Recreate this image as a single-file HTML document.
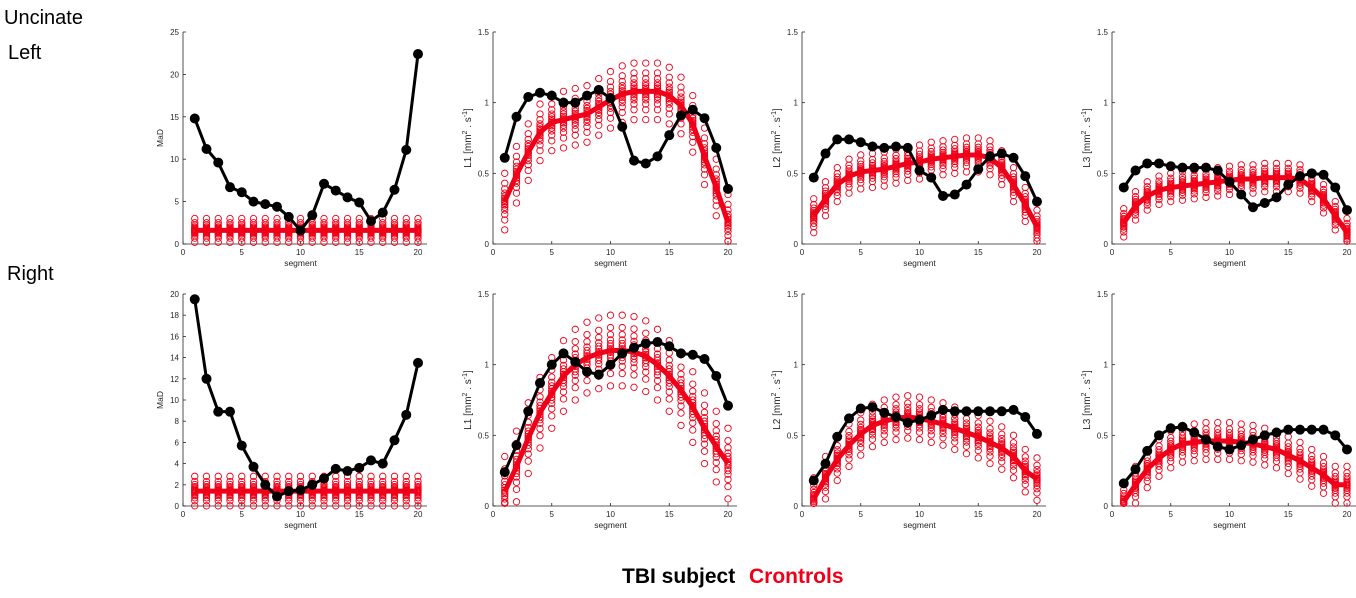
<!DOCTYPE html>
<html><head><meta charset="utf-8"><style>
body{margin:0;background:#fff;width:1356px;height:598px;overflow:hidden;font-family:"Liberation Sans",sans-serif}
svg{position:absolute;left:0;top:0}
</style></head><body>
<svg id="fig" width="1356" height="598">
<text x="4" y="24" font-size="20">Uncinate</text>
<text x="8" y="59" font-size="20">Left</text>
<text x="7" y="280" font-size="20">Right</text>
<text x="622" y="583" font-size="21" font-weight="bold" fill="#000">TBI subject</text>
<text x="749" y="583" font-size="21" font-weight="bold" fill="#f00018">Crontrols</text>
</svg>
<script>
const segments=[1,2,3,4,5,6,7,8,9,10,11,12,13,14,15,16,17,18,19,20];
const tbiLeftMaD=[14.8,11.2,9.6,6.7,6.1,5.0,4.7,4.4,3.2,1.6,3.4,7.1,6.3,5.5,4.9,2.7,3.7,6.4,11.1,22.4];
const ctlLeftMaD=[1.6,1.6,1.6,1.6,1.6,1.6,1.6,1.6,1.6,1.6,1.6,1.6,1.6,1.6,1.6,1.6,1.6,1.6,1.6,1.6];
const tbiLeftL1=[0.61,0.9,1.04,1.07,1.05,1.0,1.0,1.05,1.09,1.03,0.83,0.59,0.57,0.62,0.77,0.91,0.95,0.89,0.68,0.39];
const ctlLeftL1=[0.30,0.49,0.65,0.79,0.86,0.88,0.90,0.92,0.97,1.02,1.06,1.08,1.08,1.08,1.05,0.98,0.85,0.62,0.40,0.15];
const tbiLeftL2=[0.47,0.64,0.74,0.74,0.72,0.69,0.68,0.69,0.68,0.52,0.47,0.34,0.35,0.42,0.53,0.62,0.64,0.61,0.48,0.30];
const ctlLeftL2=[0.20,0.32,0.42,0.48,0.51,0.52,0.53,0.55,0.57,0.58,0.60,0.61,0.62,0.63,0.63,0.61,0.54,0.42,0.28,0.12];
const tbiLeftL3=[0.40,0.52,0.57,0.57,0.55,0.54,0.54,0.54,0.52,0.44,0.35,0.26,0.29,0.33,0.42,0.48,0.50,0.49,0.40,0.24];
const ctlLeftL3=[0.15,0.27,0.34,0.38,0.40,0.41,0.42,0.43,0.44,0.45,0.46,0.46,0.47,0.47,0.47,0.46,0.40,0.32,0.20,0.08];
const tbiRightMaD=[19.5,12.0,8.9,8.9,5.7,3.7,2.0,0.9,1.4,1.5,2.0,2.6,3.5,3.3,3.6,4.3,4.0,6.2,8.6,13.5];
const ctlRightMaD=[1.4,1.4,1.4,1.4,1.4,1.4,1.4,1.4,1.4,1.4,1.4,1.4,1.4,1.4,1.4,1.4,1.4,1.4,1.4,1.4];
const tbiRightL1=[0.24,0.43,0.67,0.87,1.0,1.08,1.02,0.95,0.93,1.0,1.08,1.12,1.15,1.16,1.13,1.08,1.07,1.04,0.92,0.71];
const ctlRightL1=[0.10,0.28,0.48,0.66,0.80,0.92,1.00,1.05,1.08,1.10,1.10,1.09,1.06,1.00,0.92,0.82,0.70,0.55,0.42,0.30];
const tbiRightL2=[0.18,0.30,0.49,0.62,0.69,0.70,0.66,0.63,0.59,0.61,0.64,0.68,0.67,0.67,0.67,0.67,0.67,0.68,0.63,0.51];
const ctlRightL2=[0.05,0.20,0.33,0.43,0.51,0.57,0.60,0.62,0.63,0.62,0.60,0.58,0.55,0.52,0.49,0.45,0.41,0.35,0.25,0.19];
const tbiRightL3=[0.16,0.26,0.39,0.50,0.55,0.56,0.52,0.47,0.42,0.40,0.43,0.47,0.50,0.52,0.54,0.54,0.54,0.54,0.50,0.40];
const ctlRightL3=[0.03,0.15,0.26,0.34,0.40,0.44,0.45,0.46,0.46,0.46,0.45,0.44,0.42,0.40,0.36,0.32,0.27,0.22,0.15,0.15];
const subjectOffsets=[-1,-0.65,-0.45,-0.3,-0.2,-0.12,-0.05,0,0.05,0.12,0.2,0.3,0.45,0.65,1];
const madTicks=[[0,5,10,15,20,25],[0,2,4,6,8,10,12,14,16,18,20]];
const diffTicks=[0,0.5,1,1.5];
const xTicks=[0,5,10,15,20];

const NS='http://www.w3.org/2000/svg';
const svg=document.getElementById('fig');
function mk(tag,attrs,parent){const e=document.createElementNS(NS,tag);for(const k in attrs)e.setAttribute(k,attrs[k]);(parent||svg).appendChild(e);return e;}

const panels=[
 {x0:183,top:32,bot:244,ymax:25,ticks:madTicks[0],lab:'MaD',tbi:tbiLeftMaD,ctl:ctlLeftMaD,spread:1.4,name:'left-mad'},
 {x0:493,top:32,bot:244,ymax:1.5,ticks:diffTicks,lab:'L1',tbi:tbiLeftL1,ctl:ctlLeftL1,spread:0.2,name:'left-l1'},
 {x0:802,top:32,bot:244,ymax:1.5,ticks:diffTicks,lab:'L2',tbi:tbiLeftL2,ctl:ctlLeftL2,spread:0.12,name:'left-l2'},
 {x0:1112,top:32,bot:244,ymax:1.5,ticks:diffTicks,lab:'L3',tbi:tbiLeftL3,ctl:ctlLeftL3,spread:0.1,name:'left-l3'},
 {x0:183,top:294,bot:506,ymax:20,ticks:madTicks[1],lab:'MaD',tbi:tbiRightMaD,ctl:ctlRightMaD,spread:1.4,name:'right-mad'},
 {x0:493,top:294,bot:506,ymax:1.5,ticks:diffTicks,lab:'L1',tbi:tbiRightL1,ctl:ctlRightL1,spread:0.25,name:'right-l1'},
 {x0:802,top:294,bot:506,ymax:1.5,ticks:diffTicks,lab:'L2',tbi:tbiRightL2,ctl:ctlRightL2,spread:0.15,name:'right-l2'},
 {x0:1112,top:294,bot:506,ymax:1.5,ticks:diffTicks,lab:'L3',tbi:tbiRightL3,ctl:ctlRightL3,spread:0.13,name:'right-l3'}
];
panels.forEach(p=>{
 const g=mk('g',{});
 
 
 const xs=v=>p.x0+v*11.75;
 const ys=v=>p.bot-(v/p.ymax)*(p.bot-p.top);
 const ax=mk('path',{d:`M${p.x0} ${p.top}V${p.bot}H${p.x0+244}`,stroke:'#262626','stroke-width':0.8,fill:'none'},g);
 
 
 p.ticks.forEach(t=>{
  mk('line',{x1:p.x0,x2:p.x0+3,y1:ys(t),y2:ys(t),stroke:'#262626','stroke-width':0.8},g);
  const tl=mk('text',{x:p.x0-4,y:ys(t)+3,'font-size':8,'text-anchor':'end',fill:'#262626'},g);
  tl.textContent=t;
  
  
 });
 xTicks.forEach(t=>{
  mk('line',{x1:xs(t),x2:xs(t),y1:p.bot,y2:p.bot-3,stroke:'#262626','stroke-width':0.8},g);
  const tl=mk('text',{x:xs(t),y:p.bot+11,'font-size':8,'text-anchor':'middle',fill:'#262626'},g);
  tl.textContent=t;
  
  
 });
 const xl=mk('text',{x:xs(10),y:p.bot+22,'font-size':8.5,'text-anchor':'middle',fill:'#262626'},g);
 xl.textContent='segment';
 
 
 const cy=(p.top+p.bot)/2;
 const yl=mk('text',{x:p.x0-22,y:cy,'font-size':p.lab==='MaD'?8.5:10,'text-anchor':'middle',fill:'#262626',transform:`rotate(-90 ${p.x0-22} ${cy})`},g);
 if(p.lab==='MaD'){yl.textContent='MaD';yl.setAttribute('x',p.x0-20);yl.setAttribute('transform',`rotate(-90 ${p.x0-20} ${cy})`);}
 else yl.innerHTML=p.lab+'  [mm<tspan dy="-4" font-size="7">2</tspan><tspan dy="4"> . s</tspan><tspan dy="-4" font-size="7">-1</tspan><tspan dy="4">]</tspan>';
 
 
 segments.forEach((s,i)=>{
  subjectOffsets.forEach(o=>{
   const v=Math.max(0.02,p.ctl[i]+o*p.spread);
   const c=mk('circle',{cx:xs(s),cy:ys(v),r:3.2,fill:'none',stroke:'#f00018','stroke-width':0.9},g);
   
   
  });
 });
 const rl=mk('polyline',{points:segments.map((s,i)=>xs(s)+','+ys(p.ctl[i])).join(' '),stroke:'#f00018','stroke-width':5,fill:'none','stroke-linejoin':'round'},g);
 
 
 const bl=mk('polyline',{points:segments.map((s,i)=>xs(s)+','+ys(p.tbi[i])).join(' '),stroke:'#000','stroke-width':3,fill:'none','stroke-linejoin':'round'},g);
 
 
 segments.forEach((s,i)=>{
  const c=mk('circle',{cx:xs(s),cy:ys(p.tbi[i]),r:5,fill:'#000'},g);
  
  
 });
});
</script>
</body></html>
